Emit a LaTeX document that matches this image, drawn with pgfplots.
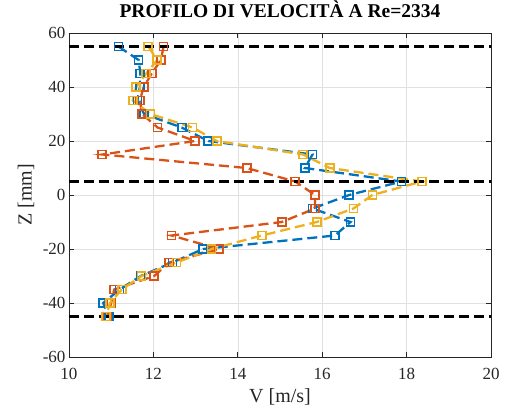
\documentclass[border=0pt]{standalone}
\usepackage{fontspec}
\setmainfont{Liberation Serif}
\usepackage{pgfplots}
\pgfplotsset{compat=1.18}
\definecolor{mblue}{rgb}{0,0.447,0.741}
\definecolor{morange}{rgb}{0.85,0.325,0.098}
\definecolor{myellow}{rgb}{0.929,0.694,0.125}
\definecolor{maxis}{rgb}{0.15,0.15,0.15}
\begin{document}
\begin{tikzpicture}
\begin{axis}[
  scale only axis, width=422pt, height=324pt,
  xmin=10, xmax=20, ymin=-60, ymax=60,
  xtick={10,12,14,16,18,20}, ytick={-60,-40,-20,0,20,40,60},
  grid=major, major grid style={black!12, line width=0.6pt},
  axis line style={maxis, line width=0.8pt},
  tick style={maxis, line width=0.8pt},
  tick align=inside, major tick length=5pt,
  /pgf/number format/assume math mode=true,
  tick label style={font=\fontsize{17}{20}\selectfont, text=maxis},
  xticklabel style={yshift=-8pt},
  xlabel={V [m/s]}, ylabel={Z [mm]},
  xlabel style={font=\fontsize{20}{22}\selectfont, text=maxis, at={(axis description cs:0.5,-0.122)}, anchor=center},
  ylabel style={font=\fontsize{20}{22}\selectfont, text=maxis, at={(axis description cs:-0.102,0.5)}, anchor=center},
  title={\textbf{PROFILO DI VELOCITÀ A Re=2334}},
  title style={font=\fontsize{19.5}{22}\selectfont, at={(axis description cs:0.5,1)}, anchor=base, yshift=9.5pt},
  every axis plot/.append style={line width=2.3pt, dash pattern=on 10pt off 5pt},
  mark options={solid, line width=1.7pt, fill=none},
]
\addplot[mblue, mark=square, mark size=4pt] coordinates {
(11.17,55) (11.65,50) (11.69,45) (11.68,40) (11.62,35) (11.78,30) (12.67,25) (13.30,20)
(15.77,15) (15.59,10) (17.88,5) (16.64,0) (15.77,-5) (16.67,-10) (16.30,-15) (13.18,-20)
(12.45,-25) (11.70,-30) (11.20,-35) (10.81,-40) (10.95,-45)};
\addplot[morange, mark=square, mark size=4pt] coordinates {
(12.24,55) (12.18,50) (11.96,45) (11.77,40) (11.68,35) (11.73,30) (12.10,25) (12.99,20)
(10.79,15) (14.21,10) (15.36,5) (15.83,0) (15.83,-5) (15.04,-10) (12.43,-15) (13.56,-20)
(12.37,-25) (12.02,-30) (11.07,-35) (11.00,-40) (10.90,-45)};
\addplot[myellow, mark=square, mark size=4pt] coordinates {
(11.88,55) (12.09,50) (11.83,45) (11.59,40) (11.51,35) (11.93,30) (12.93,25) (13.50,20)
(15.55,15) (16.18,10) (18.36,5) (17.19,0) (16.74,-5) (15.87,-10) (14.57,-15) (13.38,-20)
(12.55,-25) (11.72,-30) (11.25,-35) (10.97,-40) (10.88,-45)};
\addplot[black, line width=2.4pt, dash pattern=on 10pt off 5pt] coordinates {(10,55) (20,55)};
\addplot[black, line width=2.4pt, dash pattern=on 10pt off 5pt] coordinates {(10,5) (20,5)};
\addplot[black, line width=2.4pt, dash pattern=on 10pt off 5pt] coordinates {(10,-45) (20,-45)};
\end{axis}
\pgfresetboundingbox
\path ([xshift=-69pt,yshift=-55pt]current axis.south west) rectangle ([xshift=17pt,yshift=33pt]current axis.north east);
\end{tikzpicture}
\end{document}
